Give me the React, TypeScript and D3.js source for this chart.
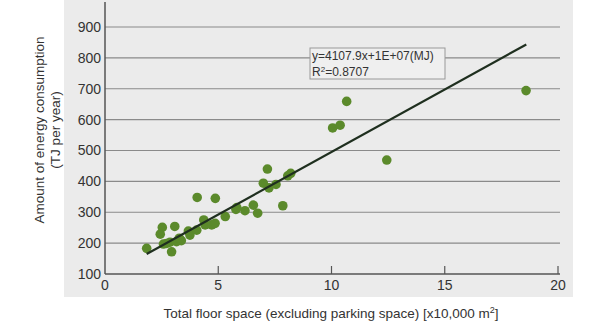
import React from "react";
import * as d3 from "d3";

const xTicks = [0, 5, 10, 15, 20];
const yTicks = [100, 200, 300, 400, 500, 600, 700, 800, 900];
const floorSpace = [1.84, 2.53, 2.44, 2.58, 2.72, 2.94, 3.08, 2.87, 3.16, 3.37, 3.28, 3.68, 3.75, 4.05, 4.07, 4.36, 4.42, 4.71, 4.86, 4.87, 5.31, 5.78, 5.82, 6.18, 6.55, 6.74, 6.99, 7.17, 7.24, 7.55, 7.85, 8.07, 8.2, 10.05, 10.38, 10.67, 12.44, 18.59];
const energy = [183, 251, 229, 197, 199, 172, 254, 203, 205, 208, 216, 239, 226, 242, 348, 275, 259, 259, 264, 345, 286, 309, 315, 305, 323, 297, 394, 440, 379, 390, 321, 418, 426, 573, 582, 659, 469, 694];
const trendSlope = 40.5;
const trendIntercept = 90;
const trendRange = [1.84, 18.6];

export default function App() {
  const W = 600, H = 324;
  const x = d3.scaleLinear().domain([0, 20]).range([105, 558]);
  const y = d3.scaleLinear().domain([100, 900]).range([274, 27]);
  const axisColor = "#555";
  const font = "Liberation Sans, Arial, sans-serif";
  const line = d3.line<number>().x((d) => x(d)).y((d) => y(trendSlope * d + trendIntercept));
  return (
    <svg width={W} height={H} style={{ position: "absolute", left: 0, top: 0, background: "#fff" }}>
      <rect x={64} y={0} width={509} height={297} fill="#ebebeb" />
      {yTicks.filter((t) => t > 100).map((t) => (
        <line key={t} x1={105} x2={560} y1={y(t)} y2={y(t)} stroke="#8a8a8a" strokeWidth={1.2} />
      ))}
      <line x1={105} x2={105} y1={2} y2={274} stroke={axisColor} strokeWidth={1.5} />
      <line x1={105} x2={560} y1={274} y2={274} stroke={axisColor} strokeWidth={1.5} />
      {xTicks.filter((t) => t > 0).map((t) => (
        <line key={t} x1={x(t)} x2={x(t)} y1={274} y2={266} stroke={axisColor} strokeWidth={1.2} />
      ))}
      {yTicks.map((t) => (
        <text key={t} x={101} y={y(t)} dy="0.35em" textAnchor="end" fontFamily={font} fontSize={14} fill="#333">{t}</text>
      ))}
      {xTicks.map((t) => (
        <text key={t} x={x(t)} y={290} textAnchor="middle" fontFamily={font} fontSize={14} fill="#333">{t}</text>
      ))}
      {floorSpace.map((v, i) => (
        <circle key={i} cx={x(v)} cy={y(energy[i])} r={4.8} fill="#5b8a2b" />
      ))}
      <path d={line(trendRange) || ""} stroke="#1f2f1f" strokeWidth={2.2} fill="none" />
      <rect x={310} y={48} width={135} height={31} fill="#efefef" stroke="#999" strokeWidth={1} />
      <text x={312} y={60} fontFamily={font} fontSize={12} fill="#333">y=4107.9x+1E+07(MJ)</text>
      <text x={312} y={76} fontFamily={font} fontSize={12} fill="#333">
        R<tspan dy={-4} fontSize={8}>2</tspan><tspan dy={4}>=0.8707</tspan>
      </text>
      <text transform="translate(44,130) rotate(-90)" textAnchor="middle" fontFamily={font} fontSize={13.5} fill="#333">Amount of energy consumption</text>
      <text transform="translate(60,130) rotate(-90)" textAnchor="middle" fontFamily={font} fontSize={13.5} fill="#333">(TJ per year)</text>
      <text x={331} y={318} textAnchor="middle" fontFamily={font} fontSize={13.5} fill="#333">
        Total floor space (excluding parking space) [x10,000 m<tspan dy={-5} fontSize={9}>2</tspan><tspan dy={5}>]</tspan>
      </text>
    </svg>
  );
}
